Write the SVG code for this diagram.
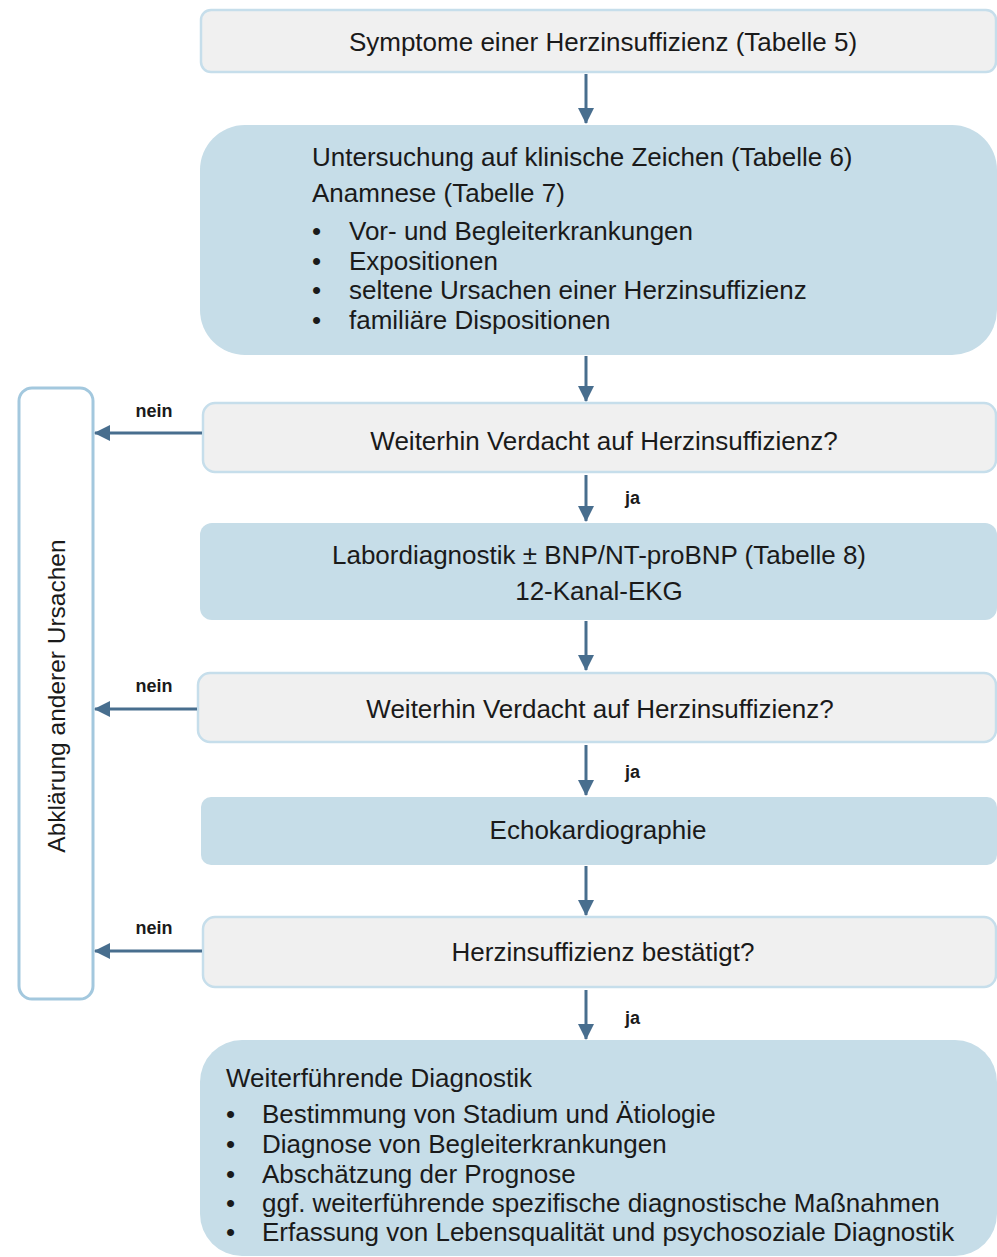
<svg xmlns="http://www.w3.org/2000/svg" width="997" height="1257" viewBox="0 0 997 1257">
<defs>
<style>
.t{font-family:"Liberation Sans",Arial,sans-serif;font-size:26px;fill:#1a1a1a}
.c{text-anchor:middle}
.lbl{font-family:"Liberation Sans",Arial,sans-serif;font-size:18px;font-weight:bold;fill:#1a1a1a}
.grey{fill:#f0f0f0;stroke:#c6deeb;stroke-width:2.5}
.blue{fill:#c6dde8;stroke:none}
.side{fill:#ffffff;stroke:#a3c8de;stroke-width:3}
.con{stroke:#486e8e;stroke-width:3;fill:none;marker-end:url(#ah)}
</style>
<marker id="ah" markerUnits="userSpaceOnUse" markerWidth="16" markerHeight="16" viewBox="0 0 16 16" refX="15" refY="8" orient="auto">
<path d="M0,0 L16,8 L0,16 Z" fill="#486e8e"/>
</marker>
</defs>
<rect width="997" height="1257" fill="#ffffff"/>

<g id="side">
<rect class="side" x="19" y="388" width="74" height="611" rx="13"/>
<text class="t c" style="font-size:24.5px" transform="translate(65,696) rotate(-90)">Abklärung anderer Ursachen</text>
</g>

<g id="n1">
<rect class="grey" x="201" y="10" width="795" height="62" rx="10"/>
<text class="t c" x="603" y="51">Symptome einer Herzinsuffizienz (Tabelle 5)</text>
</g>

<g id="n2">
<rect class="blue" x="200" y="125" width="797" height="230" rx="45"/>
<text class="t" x="312" y="166">Untersuchung auf klinische Zeichen (Tabelle 6)</text>
<text class="t" x="312" y="202">Anamnese (Tabelle 7)</text>
<text class="t" x="312" y="240">•</text><text class="t" x="349" y="240">Vor- und Begleiterkrankungen</text>
<text class="t" x="312" y="270">•</text><text class="t" x="349" y="270">Expositionen</text>
<text class="t" x="312" y="299">•</text><text class="t" x="349" y="299">seltene Ursachen einer Herzinsuffizienz</text>
<text class="t" x="312" y="329">•</text><text class="t" x="349" y="329">familiäre Dispositionen</text>
</g>

<g id="n3">
<rect class="grey" x="203" y="403" width="793" height="69" rx="12"/>
<text class="t c" x="604" y="450">Weiterhin Verdacht auf Herzinsuffizienz?</text>
</g>

<g id="n4">
<rect class="blue" x="200" y="523" width="797" height="97" rx="12"/>
<text class="t c" x="599" y="564">Labordiagnostik ± BNP/NT-proBNP (Tabelle 8)</text>
<text class="t c" x="599" y="600">12-Kanal-EKG</text>
</g>

<g id="n5">
<rect class="grey" x="198" y="673" width="798" height="69" rx="12"/>
<text class="t c" x="600" y="718">Weiterhin Verdacht auf Herzinsuffizienz?</text>
</g>

<g id="n6">
<rect class="blue" x="201" y="797" width="796" height="68" rx="10"/>
<text class="t c" x="598" y="839">Echokardiographie</text>
</g>

<g id="n7">
<rect class="grey" x="203" y="917" width="793" height="70" rx="12"/>
<text class="t c" x="603" y="961">Herzinsuffizienz bestätigt?</text>
</g>

<g id="n8">
<rect class="blue" x="200" y="1040" width="797" height="216" rx="42"/>
<text class="t" x="226" y="1087">Weiterführende Diagnostik</text>
<text class="t" x="226" y="1123">•</text><text class="t" x="262" y="1123">Bestimmung von Stadium und Ätiologie</text>
<text class="t" x="226" y="1153">•</text><text class="t" x="262" y="1153">Diagnose von Begleiterkrankungen</text>
<text class="t" x="226" y="1183">•</text><text class="t" x="262" y="1183">Abschätzung der Prognose</text>
<text class="t" x="226" y="1212">•</text><text class="t" x="262" y="1212">ggf. weiterführende spezifische diagnostische Maßnahmen</text>
<text class="t" x="226" y="1241">•</text><text class="t" x="262" y="1241">Erfassung von Lebensqualität und psychosoziale Diagnostik</text>
</g>

<g id="connectors">
<line class="con" x1="586" y1="74" x2="586" y2="123"/>
<line class="con" x1="586" y1="356" x2="586" y2="401"/>
<line class="con" x1="586" y1="475" x2="586" y2="521"/>
<line class="con" x1="586" y1="621" x2="586" y2="670"/>
<line class="con" x1="586" y1="745" x2="586" y2="795"/>
<line class="con" x1="586" y1="866" x2="586" y2="915"/>
<line class="con" x1="586" y1="990" x2="586" y2="1039"/>
<line class="con" x1="202" y1="433" x2="95" y2="433"/>
<line class="con" x1="197" y1="709" x2="95" y2="709"/>
<line class="con" x1="202" y1="951" x2="95" y2="951"/>
<text class="lbl" x="154" y="417" text-anchor="middle">nein</text>
<text class="lbl" x="154" y="692" text-anchor="middle">nein</text>
<text class="lbl" x="154" y="934" text-anchor="middle">nein</text>
<text class="lbl" x="625" y="504">ja</text>
<text class="lbl" x="625" y="778">ja</text>
<text class="lbl" x="625" y="1024">ja</text>
</g>
</svg>
